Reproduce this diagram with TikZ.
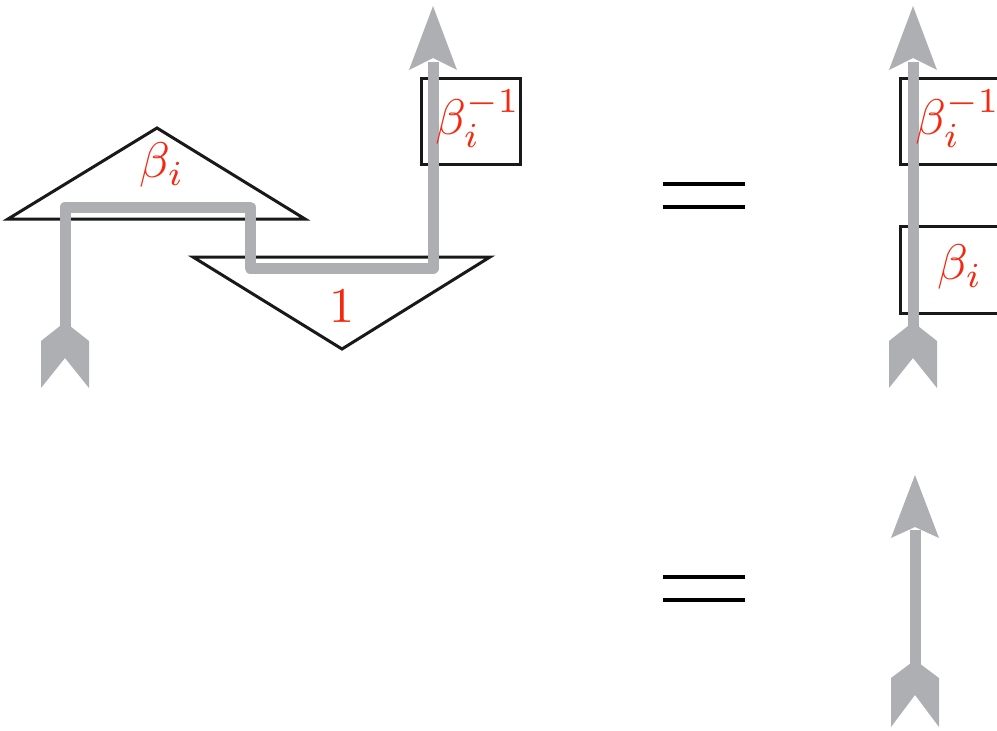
\documentclass[tikz,border=0pt]{standalone}
\begin{document}
\begin{tikzpicture}[x=1pt,y=-1pt,
  strand/.style={draw=strandgray,line width=11pt,line join=round},
  tipfill/.style={fill=strandgray},
  outline/.style={draw=black!90,line width=3pt,line join=miter},
  lab/.style={text=labred,scale=5,inner sep=0pt},
  eqline/.style={draw=black,line width=4pt}]
\definecolor{strandgray}{RGB}{174,175,179}
\definecolor{labred}{RGB}{245,40,15}
\useasboundingbox (0,0) rectangle (997,731);
% ---------- left diagram ----------
\coordinate (t1a) at (157,128);
\coordinate (t1l) at (8,219);
\coordinate (t1r) at (305,219);
\coordinate (t2l) at (193,257);
\coordinate (t2r) at (490,257);
\coordinate (t2a) at (342,349);
\draw[outline] (t1a) -- (t1l) -- (t1r) -- cycle;
\draw[outline] (t2l) -- (t2r) -- (t2a) -- cycle;
\draw[outline] (421,78) rectangle (520,164);
\coordinate (Ls) at (65,330);
\coordinate (L1) at (65,207);
\coordinate (L2) at (250,207);
\coordinate (L3) at (250,268);
\coordinate (L4) at (433,268);
\coordinate (Le) at (433,62);
\draw[strand] (Ls) -- (L1) -- (L2) -- (L3) -- (L4) -- (Le);
\fill[tipfill] (433,6) -- (457,70) -- (433,58) -- (409,70) -- cycle;
\fill[tipfill] (41,341) -- (65,322) -- (89,341) -- (89,388) -- (65,358) -- (41,388) -- cycle;
\node[lab] (bt) at (162,165) {$\beta_i$};
\node[lab] (one) at (342,306) {$1$};
\node[lab] (binv) at (478,119) {$\beta_i^{-1}$};
% ---------- equals ----------
\draw[eqline] (663,184) -- (745,184);
\draw[eqline] (663,207) -- (745,207);
\draw[eqline] (663,577) -- (745,577);
\draw[eqline] (663,600) -- (745,600);
% ---------- right top ----------
\draw[outline] (900,78) rectangle (1010,164);
\draw[outline] (900,226) rectangle (1010,313);
\coordinate (Rs) at (913,330);
\coordinate (Re) at (913,62);
\draw[strand] (Rs) -- (Re);
\fill[tipfill] (913,6) -- (937,70) -- (913,58) -- (889,70) -- cycle;
\fill[tipfill] (889,341) -- (913,322) -- (937,341) -- (937,388) -- (913,358) -- (889,388) -- cycle;
\node[lab] (binv2) at (958,119) {$\beta_i^{-1}$};
\node[lab] (b2) at (960,267) {$\beta_i$};
% ---------- right bottom ----------
\coordinate (Bs) at (915,668);
\coordinate (Be) at (915,530);
\draw[strand] (Bs) -- (Be);
\fill[tipfill] (915,475) -- (939,538) -- (915,527) -- (891,538) -- cycle;
\fill[tipfill] (891,678) -- (915,660) -- (939,678) -- (939,727) -- (915,695) -- (891,727) -- cycle;
\end{tikzpicture}
\end{document}
